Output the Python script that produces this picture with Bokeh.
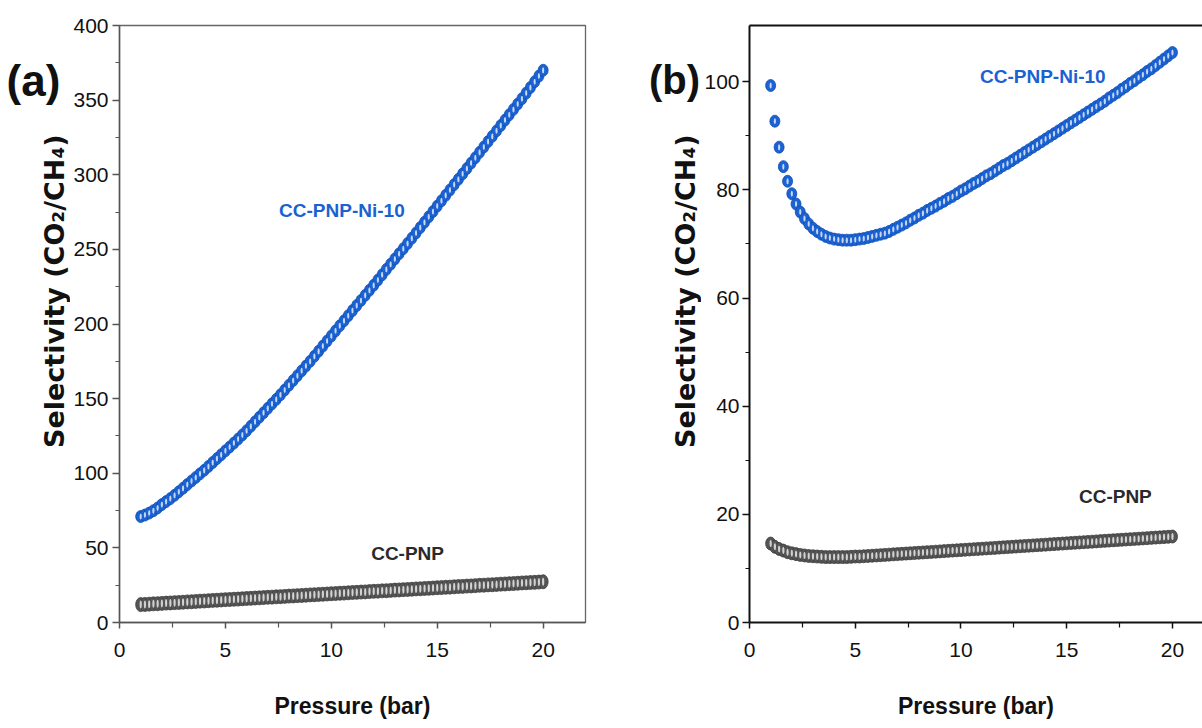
from bokeh.plotting import figure
from bokeh.models import Range1d, Label, LinearAxis, FixedTicker
from bokeh.layouts import row
from bokeh.embed import file_html
from bokeh.resources import INLINE
from bokeh.core.properties import value

# ---------------- data ----------------
pressure = [1.0, 1.2, 1.4, 1.6, 1.8,
            2.0, 2.2, 2.4, 2.6, 2.8, 3.0, 3.2, 3.4, 3.6, 3.8,
            4.0, 4.2, 4.4, 4.6, 4.8, 5.0, 5.2, 5.4, 5.6, 5.8,
            6.0, 6.2, 6.4, 6.6, 6.8, 7.0, 7.2, 7.4, 7.6, 7.8,
            8.0, 8.2, 8.4, 8.6, 8.8, 9.0, 9.2, 9.4, 9.6, 9.8,
            10.0, 10.2, 10.4, 10.6, 10.8, 11.0, 11.2, 11.4, 11.6, 11.8,
            12.0, 12.2, 12.4, 12.6, 12.8, 13.0, 13.2, 13.4, 13.6, 13.8,
            14.0, 14.2, 14.4, 14.6, 14.8, 15.0, 15.2, 15.4, 15.6, 15.8,
            16.0, 16.2, 16.4, 16.6, 16.8, 17.0, 17.2, 17.4, 17.6, 17.8,
            18.0, 18.2, 18.4, 18.6, 18.8, 19.0, 19.2, 19.4, 19.6, 19.8,
            20.0]

# (a) CC-PNP-Ni-10
sel_a_ni = [71.0, 72.0, 73.3, 74.9, 76.8,
            79.0, 81.0, 83.0, 85.2, 87.6, 90.0, 92.4, 94.8, 97.2, 99.6,
            102.0, 104.6, 107.2, 109.8, 112.4, 115.0, 117.6, 120.2, 122.9, 125.7,
            128.5, 131.5, 134.5, 137.5, 140.5, 143.5, 146.5, 149.5, 152.6, 155.8,
            159.0, 162.2, 165.4, 168.6, 171.8, 175.0, 178.4, 181.8, 185.2, 188.6,
            192.0, 195.4, 198.8, 202.2, 205.6, 209.0, 212.4, 215.8, 219.2, 222.6,
            226.0, 229.5, 233.0, 236.6, 240.1, 243.6, 247.1, 250.5, 254.0, 257.5,
            261.0, 264.6, 268.2, 271.8, 275.4, 279.0, 282.6, 286.2, 289.8, 293.4,
            297.0, 300.6, 304.2, 307.8, 311.4, 315.0, 318.6, 322.2, 325.8, 329.4,
            333.0, 336.6, 340.2, 343.8, 347.4, 351.0, 354.7, 358.5, 362.3, 366.1,
            370.0]

# (a) CC-PNP
sel_a_pnp = [12.0, 12.1, 12.3, 12.5, 12.6,
             12.8, 13.0, 13.1, 13.3, 13.4, 13.6, 13.8, 13.9, 14.1, 14.3,
             14.4, 14.6, 14.8, 14.9, 15.1, 15.3, 15.4, 15.6, 15.7, 15.9,
             16.1, 16.2, 16.4, 16.5, 16.7, 16.9, 17.0, 17.2, 17.3, 17.5,
             17.7, 17.8, 18.0, 18.1, 18.3, 18.5, 18.6, 18.8, 18.9, 19.1,
             19.3, 19.4, 19.6, 19.7, 19.9, 20.1, 20.2, 20.4, 20.5, 20.7,
             20.9, 21.0, 21.2, 21.3, 21.5, 21.7, 21.8, 22.0, 22.1, 22.3,
             22.5, 22.6, 22.8, 22.9, 23.1, 23.3, 23.4, 23.6, 23.7, 23.9,
             24.1, 24.2, 24.4, 24.5, 24.7, 24.9, 25.0, 25.2, 25.3, 25.5,
             25.7, 25.8, 26.0, 26.1, 26.3, 26.5, 26.6, 26.8, 26.9, 27.1,
             27.3]

# (b) CC-PNP-Ni-10
sel_b_ni = [99.3, 92.7, 87.9, 84.3, 81.6,
            79.3, 77.4, 75.9, 74.7, 73.7, 72.9, 72.3, 71.8, 71.4, 71.1,
            70.9, 70.8, 70.7, 70.7, 70.7, 70.8, 70.9, 71.0, 71.2, 71.4,
            71.6, 71.8, 72.0, 72.3, 72.7, 73.1, 73.5, 73.9, 74.4, 74.8,
            75.3, 75.7, 76.2, 76.6, 77.0, 77.5, 77.9, 78.4, 78.8, 79.3,
            79.8, 80.2, 80.7, 81.2, 81.6, 82.1, 82.6, 83.0, 83.5, 84.0,
            84.5, 84.9, 85.4, 85.9, 86.4, 86.9, 87.4, 87.9, 88.4, 88.9,
            89.4, 89.9, 90.4, 90.9, 91.4, 91.9, 92.4, 92.9, 93.4, 93.9,
            94.4, 94.9, 95.4, 95.9, 96.4, 97.0, 97.5, 98.0, 98.6, 99.1,
            99.7, 100.2, 100.8, 101.3, 101.9, 102.4, 103.0, 103.6, 104.2, 104.8,
            105.4]

# (b) CC-PNP
sel_b_pnp = [14.6, 14.0, 13.6, 13.3, 13.0,
             12.8, 12.65, 12.5, 12.4, 12.3, 12.25, 12.2, 12.15, 12.1, 12.1,
             12.1, 12.1, 12.1, 12.1, 12.15, 12.2, 12.2, 12.25, 12.3, 12.35,
             12.4, 12.45, 12.5, 12.55, 12.6, 12.65, 12.7, 12.75, 12.8, 12.85,
             12.9, 12.95, 13.0, 13.05, 13.1, 13.15, 13.2, 13.25, 13.3, 13.35,
             13.4, 13.45, 13.5, 13.55, 13.6, 13.65, 13.7, 13.75, 13.8, 13.85,
             13.9, 13.95, 14.0, 14.05, 14.1, 14.15, 14.2, 14.25, 14.3, 14.35,
             14.4, 14.45, 14.5, 14.55, 14.6, 14.65, 14.7, 14.75, 14.8, 14.85,
             14.9, 14.95, 15.0, 15.05, 15.1, 15.15, 15.2, 15.25, 15.3, 15.35,
             15.4, 15.45, 15.5, 15.55, 15.6, 15.65, 15.7, 15.75, 15.8, 15.85,
             15.9]

x_ticks = [0, 5, 10, 15, 20]
x_minor = [2.5, 7.5, 12.5, 17.5]
ya_ticks = [0, 50, 100, 150, 200, 250, 300, 350, 400]
ya_minor = [25, 75, 125, 175, 225, 275, 325, 375]
yb_ticks = [0, 20, 40, 60, 80, 100]
yb_minor = [10, 30, 50, 70, 90]

series_ni = "CC-PNP-Ni-10"
series_pnp = "CC-PNP"
x_title = "Pressure (bar)"
y_title = "Selectivity (CO\u2082/CH\u2084)"

# ---------------- styles ----------------
ARIAL = "Liberation Sans"
WIDE = "DejaVu Sans"
BLUE = "#1b63d3"
BLUE_EDGE = "#0c4cb8"
GRAY = "#555555"
GRAY_EDGE = "#3a3a3a"
TEXT_BLUE = "#1a62d2"
TEXT_GRAY = "#2a2a2a"
H = 728


def make_fig(width, bl, br, x_end, y_end, yt, ym, axis_color, axis_w,
             y_standoff):
    p = figure(width=width, height=H,
               x_range=Range1d(0, x_end), y_range=Range1d(0, y_end),
               output_backend="svg", toolbar_location=None,
               min_border_left=bl, min_border_right=br,
               min_border_top=25, min_border_bottom=106)
    p.grid.visible = False
    p.xaxis.ticker = FixedTicker(ticks=x_ticks, minor_ticks=x_minor)
    p.yaxis.ticker = FixedTicker(ticks=yt, minor_ticks=ym)
    for ax in (p.xaxis, p.yaxis):
        ax.axis_line_color = axis_color
        ax.axis_line_width = axis_w
        ax.major_tick_line_color = axis_color
        ax.minor_tick_line_color = axis_color
        ax.major_tick_line_width = 1.5
        ax.minor_tick_line_width = 1.2
        ax.major_tick_in = 0
        ax.minor_tick_in = 0
        ax.major_label_text_font = ARIAL
        ax.major_label_text_font_size = "21px"
        ax.major_label_text_color = "#111111"
    p.xaxis.major_tick_out = 6
    p.xaxis.minor_tick_out = 5
    p.yaxis.major_tick_out = 7
    p.yaxis.minor_tick_out = 4
    p.xaxis.major_label_standoff = 14
    p.yaxis.major_label_standoff = y_standoff
    p.xaxis.axis_label = x_title
    p.xaxis.axis_label_text_font = ARIAL
    p.xaxis.axis_label_text_font_size = "23px"
    p.xaxis.axis_label_text_font_style = "bold"
    p.xaxis.axis_label_text_color = "#111111"
    p.xaxis.axis_label_standoff = 33
    return p


def side_fig(width):
    # narrow strip left of a panel that carries the panel letter and y title
    s = figure(width=width, height=H, x_range=Range1d(0, width),
               y_range=Range1d(0, H), output_backend="svg",
               toolbar_location=None, x_axis_type=None, y_axis_type=None,
               min_border=0, min_border_left=0, min_border_right=0,
               min_border_top=0, min_border_bottom=0)
    s.grid.visible = False
    s.outline_line_color = None
    return s


def draw_series(p, xs, ys, color, edge, w, h):
    p.ellipse(x=xs, y=ys, width=w, height=h, width_units="screen",
              height_units="screen", fill_color=color, line_color=edge,
              line_width=0.8)
    p.ellipse(x=xs, y=ys, width=2.2, height=h - 6, width_units="screen",
              height_units="screen", fill_color="white", fill_alpha=0.75,
              line_color=None)


def add_label(p, x, y, text, size, color):
    p.add_layout(Label(x=x, y=y, text=text, text_font=ARIAL,
                       text_font_size=size, text_font_style="bold",
                       text_color=color, text_align="center",
                       text_baseline="middle"))


def side_texts(s, letter, lx, ly, lsize, tx, ty):
    s.text(x=[lx], y=[H - ly], text=[letter], text_font=value(ARIAL),
           text_font_size=value(lsize), text_font_style="bold",
           text_color="#111111", text_align="center", text_baseline="middle")
    s.text(x=[tx], y=[H - ty], text=[y_title], text_font=value(WIDE),
           text_font_size=value("27px"), text_font_style="bold",
           text_color="#111111", text_align="center", text_baseline="middle",
           angle=1.5708)


# ---------------- panel (a) ----------------
s1 = side_fig(70)
side_texts(s1, "(a)", 33, 67, "44px", 54, 324)

p1 = make_fig(530, 48, 15, 22, 400, ya_ticks, ya_minor, "#555555", 1.5, 4)
p1.outline_line_color = "#666666"
p1.outline_line_width = 1.3
draw_series(p1, pressure, sel_a_pnp, GRAY, GRAY_EDGE, 10, 14)
draw_series(p1, pressure, sel_a_ni, BLUE, BLUE_EDGE, 10, 12)
add_label(p1, 10.5, 276, series_ni, "19px", TEXT_BLUE)
add_label(p1, 13.6, 46, series_pnp, "19px", TEXT_GRAY)

# ---------------- panel (b) ----------------
s2 = side_fig(101)
side_texts(s2, "(b)", 74, 67, "40px", 85, 324)

p2 = make_fig(501, 47, 0, 21.42, 110.4, yb_ticks, yb_minor, "#111111", 2, 3)
p2.outline_line_color = None
top_axis = LinearAxis(ticker=FixedTicker(ticks=[]), axis_line_color="#111111",
                      axis_line_width=2.2, major_tick_out=0, minor_tick_out=0,
                      major_label_text_font_size="0px", major_label_standoff=0)
p2.add_layout(top_axis, "above")
draw_series(p2, pressure, sel_b_pnp, GRAY, GRAY_EDGE, 10, 13)
draw_series(p2, pressure, sel_b_ni, BLUE, BLUE_EDGE, 10, 12)
add_label(p2, 13.87, 100.9, series_ni, "19px", TEXT_BLUE)
add_label(p2, 17.3, 23.3, series_pnp, "19px", TEXT_GRAY)

layout = row(s1, p1, s2, p2)
open("out.html", "w").write(file_html(layout, INLINE))
